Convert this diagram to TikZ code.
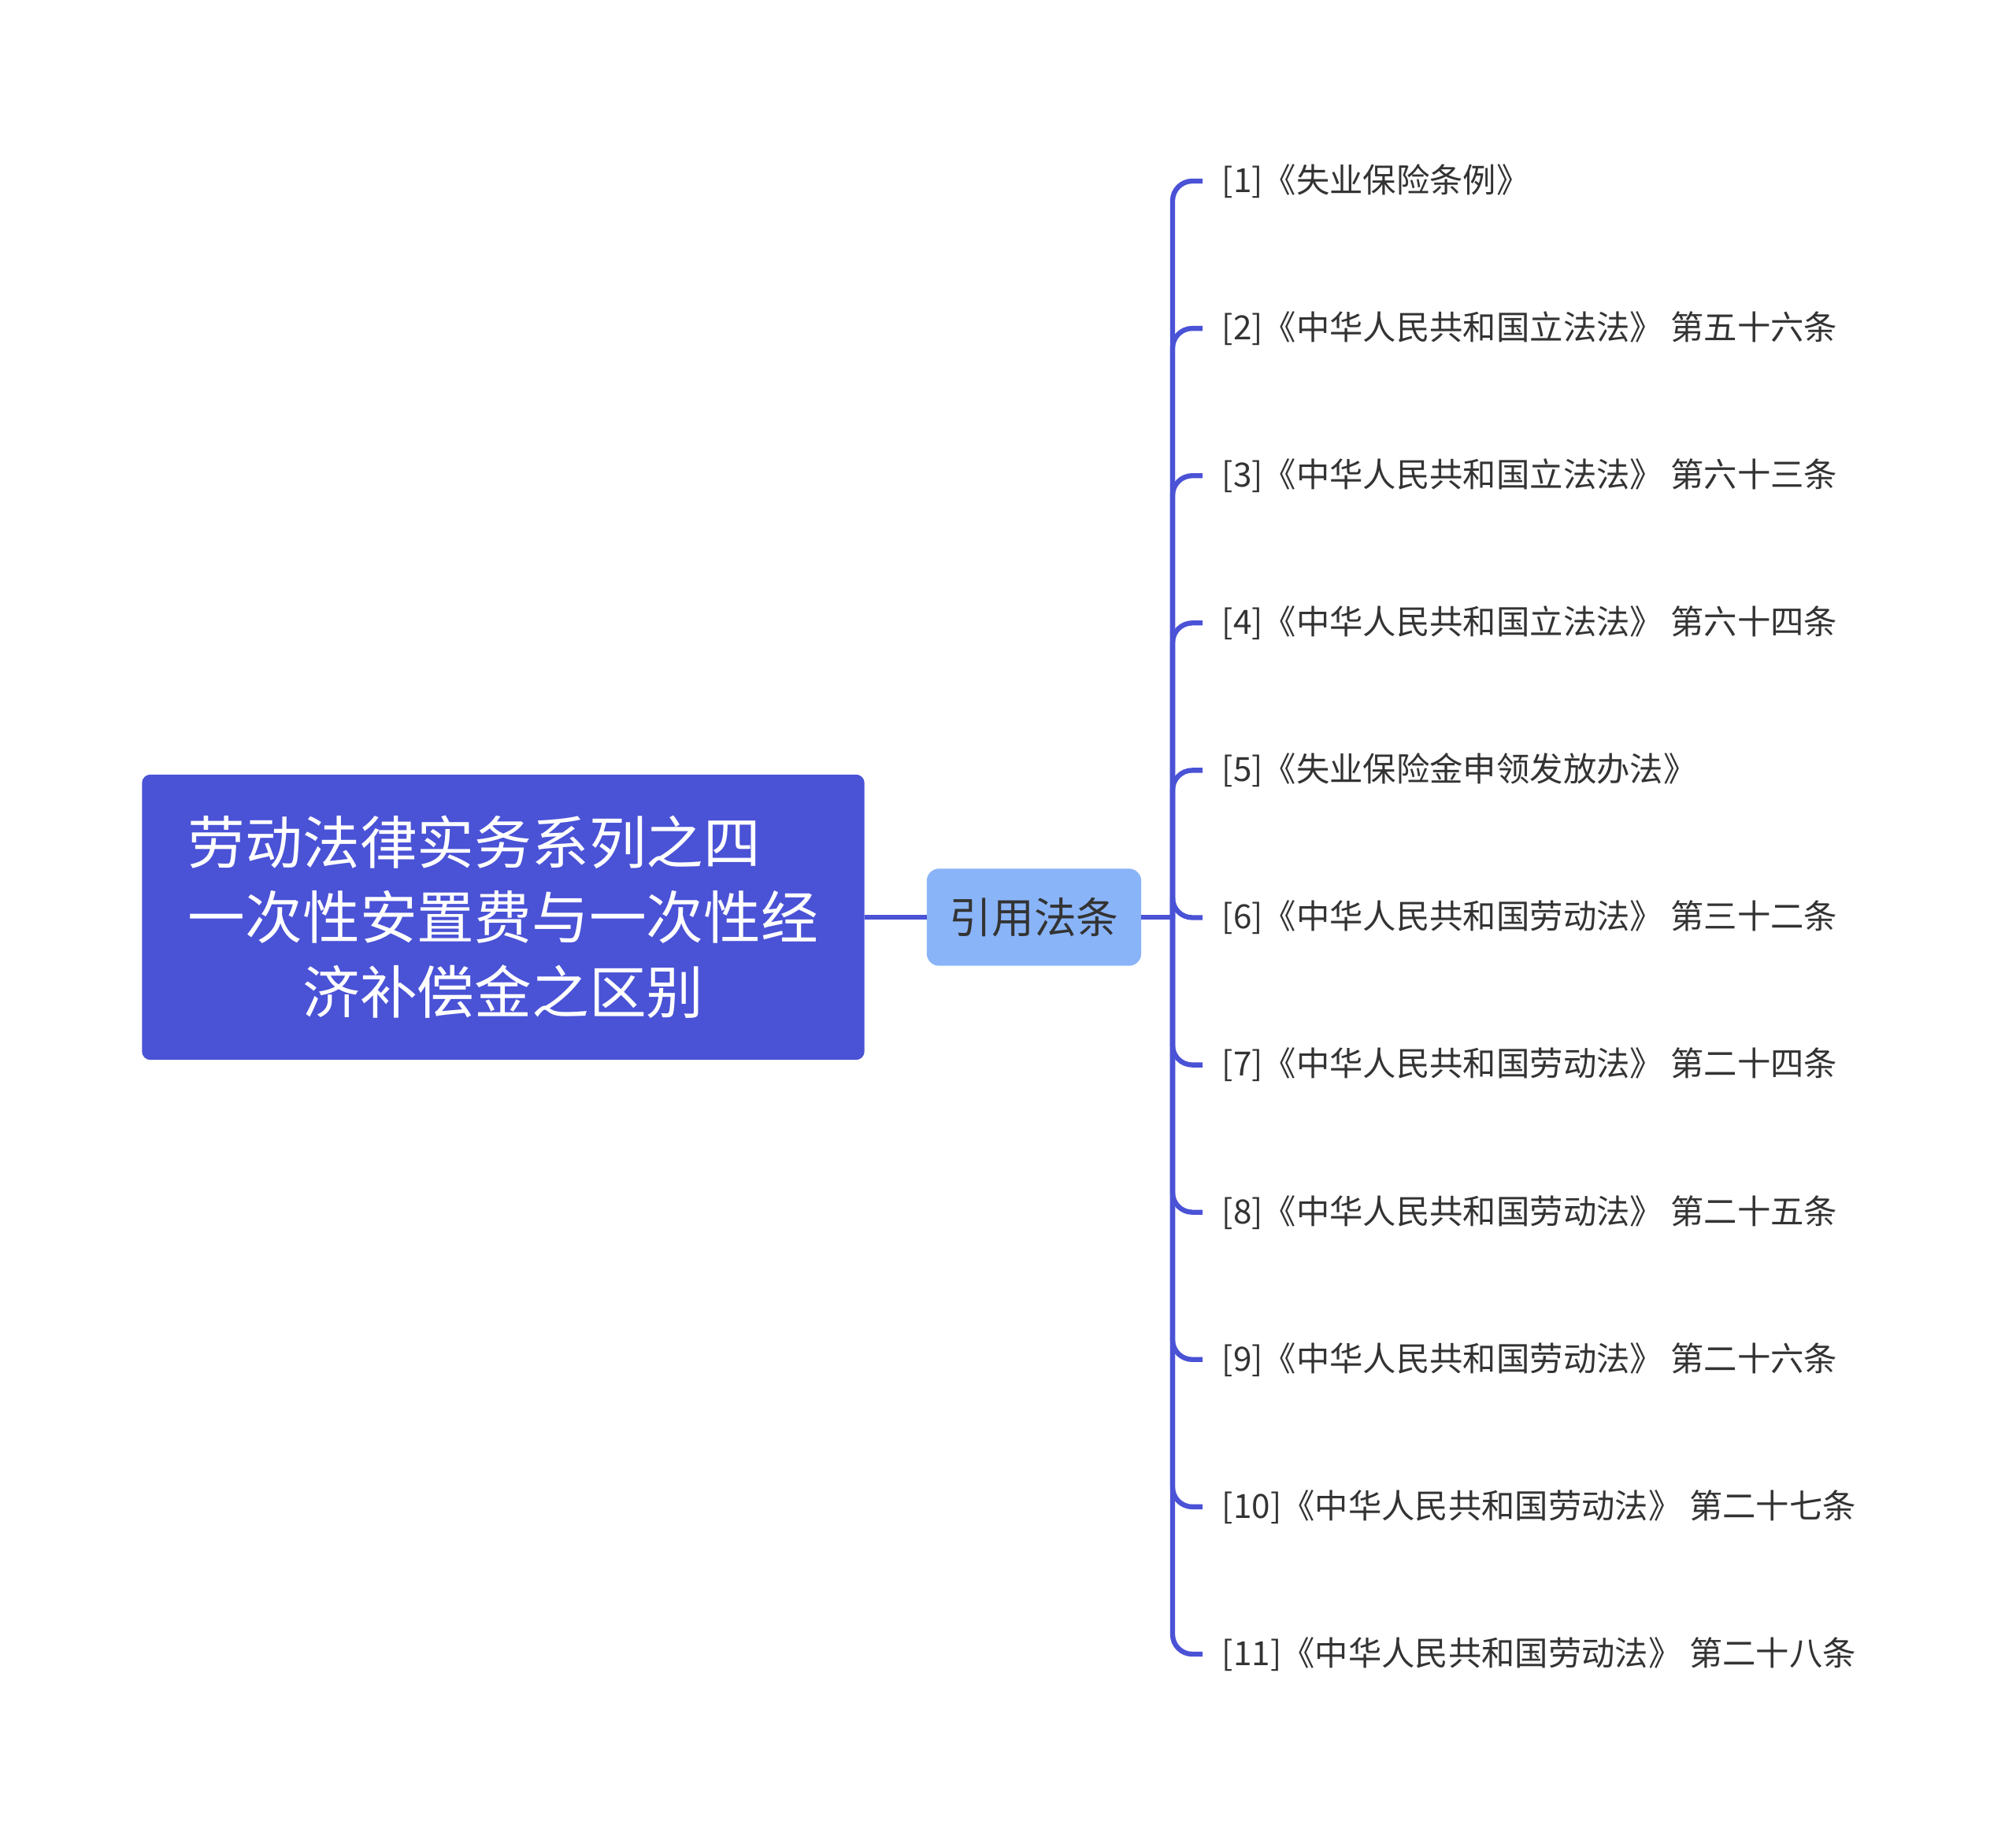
\documentclass[tikz,border=0pt]{standalone}
\usepackage{fontspec}
\setmainfont{Noto Sans CJK SC}
\usepackage{xcolor}
\usetikzlibrary{positioning,calc}
\definecolor{rootblue}{RGB}{74,82,214}
\definecolor{lightblue}{RGB}{138,180,248}
\definecolor{textgray}{RGB}{51,51,51}
\tikzset{
	rootbox/.style={draw=rootblue, fill=rootblue, rounded corners=0.1cm, minimum width=9.16cm, minimum height=3.61cm, text=white, align=center, font=\fontsize{20.7}{27}\selectfont},
	midbox/.style={draw=lightblue, fill=lightblue, rounded corners=0.15cm, minimum width=2.71cm, minimum height=1.22cm, text=textgray, font=\fontsize{15.3}{18}\selectfont},
	lawitem/.style={anchor=west, inner xsep=0.24cm, text=textgray, font=\fontsize{12.05}{14}\selectfont},
	branch/.style={draw=rootblue, line width=1.8pt, rounded corners=0.25cm},
}

\begin{document}
\begin{tikzpicture}
		\useasboundingbox (0,0) rectangle (25.6,23.31);
			\node[rootbox] (root) at (6.39,11.66) {劳动法律实务系列之四\hphantom{一}\\一次性安置费与一次性经\\济补偿金之区别};
			\node[midbox] (cite) at (13.13,11.66) {引用法条};
			\coordinate (spine) at (14.89,11.66);
			\draw[branch] (root.east) -- (cite.west);
			\draw[branch] (cite.east) -- (spine);
			\foreach \law [count=\i] in {
				[1]《失业保险条例》,
				[2]《中华人民共和国立法法》 第五十六条,
				[3]《中华人民共和国立法法》 第六十三条,
				[4]《中华人民共和国立法法》 第六十四条,
				[5]《失业保险金申领发放办法》,
				[6]《中华人民共和国劳动法》 第三十二条,
				[7]《中华人民共和国劳动法》 第二十四条,
				[8]《中华人民共和国劳动法》 第二十五条,
				[9]《中华人民共和国劳动法》 第二十六条,
				[10]《中华人民共和国劳动法》 第二十七条,
				[11]《中华人民共和国劳动法》 第二十八条} {
				\node[lawitem] (law\i) at (15.27,{21.01-1.871*(\i-1)}) {\law};
				\draw[branch] (spine) |- (law\i.west);
			}
		\end{tikzpicture}
\end{document}
